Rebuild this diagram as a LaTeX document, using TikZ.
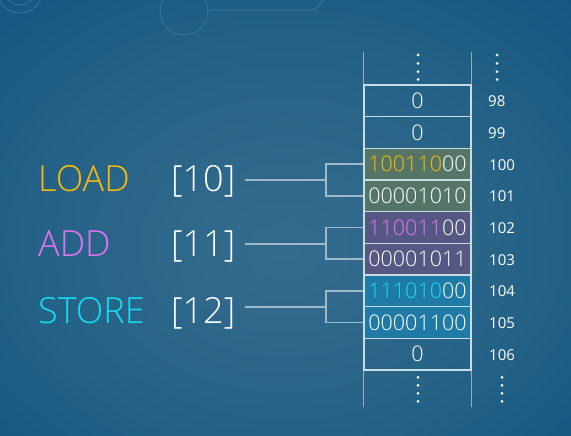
\documentclass[tikz,border=0pt]{standalone}
\usepackage{fontspec}
\setmainfont{Open Sans Light}
\newfontfamily\addrfont{Open Sans}
\definecolor{bginner}{RGB}{52,108,142}
\definecolor{bgmid}{RGB}{40,100,136}
\definecolor{bgedge}{RGB}{22,88,128}
\definecolor{bgouter}{RGB}{10,74,112}
\definecolor{decorcol}{RGB}{55,118,158}
\definecolor{cellline}{RGB}{200,220,228}
\definecolor{railcol}{RGB}{140,175,195}
\definecolor{linkcol}{RGB}{160,185,200}
\definecolor{loadcol}{RGB}{250,186,10}
\definecolor{addcol}{RGB}{222,115,245}
\definecolor{storecol}{RGB}{20,220,245}
\definecolor{loadfill}{RGB}{85,117,102}
\definecolor{addfill}{RGB}{84,88,130}
\definecolor{storefill}{RGB}{31,122,165}
\pgfdeclareradialshading{bgglow}{\pgfpoint{0bp}{-4bp}}{%
  color(0bp)=(bginner); color(18bp)=(bgmid); color(36bp)=(bgedge);
  color(50bp)=(bgouter); color(70bp)=(bgouter)}

\begin{document}
\begin{tikzpicture}[x=1pt,y=-1pt,
    cell/.style={draw=cellline, line width=1.5pt, minimum width=107pt,
      minimum height=31.67pt, inner sep=0pt, text=white,
      font=\fontsize{21.5}{24}\selectfont},
    addr/.style={anchor=west, inner sep=0pt, text=white,
      font=\addrfont\fontsize{15}{18}\selectfont},
    opname/.style={anchor=base west, inner sep=0pt,
      font=\fontsize{36}{40}\selectfont},
    argname/.style={opname, text=white},
    link/.style={draw=linkcol, line width=1.8pt},
    rail/.style={draw=railcol, line width=1pt},
    decor/.style={draw=decorcol, line width=0.8pt}]

    % background
    \useasboundingbox (0,0) rectangle (571,436);
    \shade[shading=bgglow] (0,0) rectangle (571,436);
    \begin{scope}
        \clip (0,0) rectangle (571,436);
        \draw[decor] (20,-10) circle (23pt);
        \draw[decor] (20,-10) circle (15pt);
        \draw[decor] (184,11) circle (24pt);
        \draw[decor] (208,10) -- (314,10) -- (324,0);
    \end{scope}

    % memory cells
    \node[cell] (c98) at (417.5,100.8) {0};
    \node[cell] (c99) at (417.5,132.5) {0};
    \node[cell, fill=loadfill] (c100) at (417.5,164.2) {{\color{loadcol}100110}00};
    \node[cell, fill=loadfill] (c101) at (417.5,195.8) {00001010};
    \node[cell, fill=addfill] (c102) at (417.5,227.5) {{\color{addcol}110011}00};
    \node[cell, fill=addfill] (c103) at (417.5,259.2) {00001011};
    \node[cell, fill=storefill] (c104) at (417.5,290.8) {{\color{storecol}111010}00};
    \node[cell, fill=storefill] (c105) at (417.5,322.5) {00001100};
    \node[cell] (c106) at (417.5,354.2) {0};

    \draw[rail] (c98.north west) -- ++(0,-32);
    \draw[rail] (c98.north east) -- ++(0,-32);
    \draw[rail] (c106.south west) -- ++(0,36);
    \draw[rail] (c106.south east) -- ++(0,36);

    % addresses
    \node[addr] (m98) at (488,101.5) {98};
    \node[addr] (m99) at (488,133.2) {99};
    \node[addr] (m100) at (489,164.9) {100};
    \node[addr] (m101) at (489,196.5) {101};
    \node[addr] (m102) at (489,228.2) {102};
    \node[addr] (m103) at (489,259.9) {103};
    \node[addr] (m104) at (489,291.5) {104};
    \node[addr] (m105) at (489,323.2) {105};
    \node[addr] (m106) at (489,354.9) {106};

    % ellipses
    \foreach \y in {55,63.3,71.7,79.5} {
        \fill[white] (418,\y) circle (1.5pt);
        \fill[white] (497,\y) circle (1.5pt);
    }
    \foreach \y in {377.3,385.3,393.3,401.3} {
        \fill[white] (418,\y) circle (1.5pt);
        \fill[white] (502,\y) circle (1.5pt);
    }

    % instructions
    \node[opname, text=loadcol] (load) at (38,191.7) {LOAD};
    \node[opname, text=addcol] (add) at (38,256.7) {ADD};
    \node[opname, text=storecol] (store) at (38,323) {STORE};
    \node[argname] (a10) at (171,191.7) {[10]};
    \node[argname] (a11) at (171,256.7) {[11]};
    \node[argname] (a12) at (171,323) {[12]};

    \coordinate (j10) at (326,180);
    \coordinate (j11) at (326,244.3);
    \coordinate (j12) at (326,306.7);
    \draw[link] ([xshift=10pt]a10.east |- j10) -- (j10) |- (c100.west);
    \draw[link] (j10) |- (c101.west);
    \draw[link] ([xshift=10pt]a11.east |- j11) -- (j11) |- (c102.west);
    \draw[link] (j11) |- (c103.west);
    \draw[link] ([xshift=10pt]a12.east |- j12) -- (j12) |- (c104.west);
    \draw[link] (j12) |- (c105.west);
\end{tikzpicture}
\end{document}
